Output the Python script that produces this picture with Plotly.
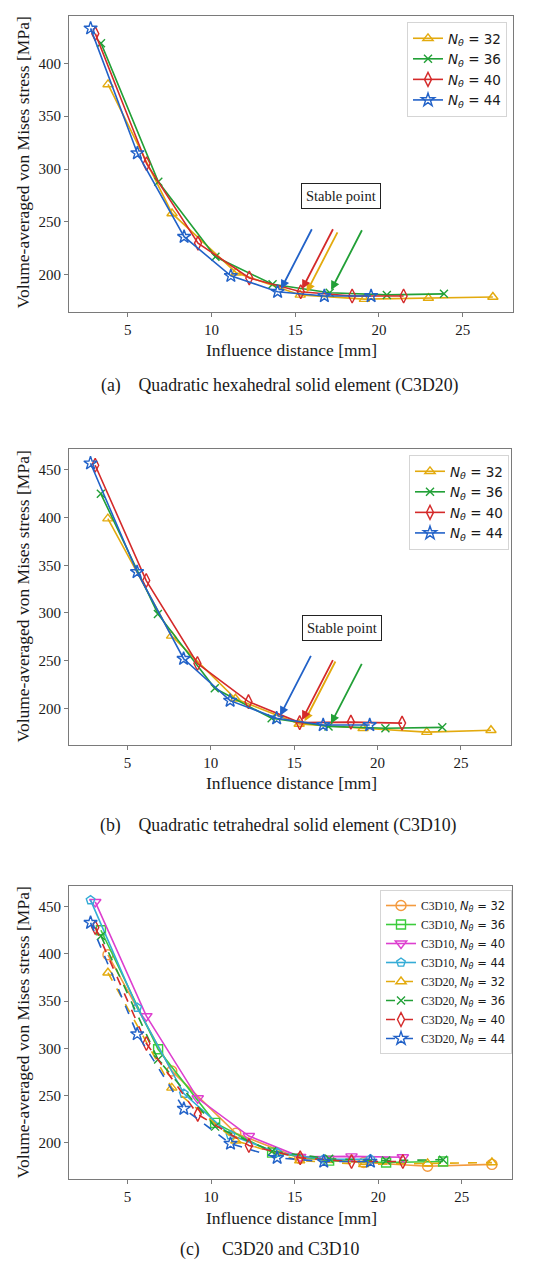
import plotly.graph_objects as go

# ---------------- data ----------------
# influence distance [mm] for each N_theta
x32 = [3.83, 7.65, 11.48, 15.30, 19.13, 22.95, 26.80]
x36 = [3.41, 6.83, 10.24, 13.65, 17.06, 20.47, 23.88]
x40 = [3.07, 6.13, 9.20, 12.26, 15.33, 18.40, 21.47]
x44 = [2.79, 5.58, 8.37, 11.16, 13.95, 16.74, 19.53]

# volume-averaged von Mises stress [MPa], C3D20
c3d20_32 = [380, 258, 202, 181, 177, 178, 179]
c3d20_36 = [419, 288, 217, 191, 183, 181, 182]
c3d20_40 = [428, 305, 230, 197, 184, 180, 180]
c3d20_44 = [433, 315, 236, 199, 184, 180, 180]

# volume-averaged von Mises stress [MPa], C3D10
c3d10_32 = [399, 276, 210, 183.5, 179, 175, 177]
c3d10_36 = [425, 299, 221, 189.5, 181, 179, 180]
c3d10_40 = [455, 334, 247, 207, 185, 185.5, 184.5]
c3d10_44 = [457, 343, 252, 208, 189.5, 182.5, 182.5]

n_labels = ["32", "36", "40", "44"]
x_ticks = [5, 10, 15, 20, 25]
y_ticks_a = [200, 250, 300, 350, 400]
y_ticks_bc = [200, 250, 300, 350, 400, 450]
stable_index = [3, 4, 4, 4]  # index of the stable point in each series

# ---------------- style ----------------
W, H = 544, 1280
SERIF = "Liberation Serif"
SANS = "DejaVu Sans"
col20 = ["#e3aa0e", "#22a037", "#d42a2a", "#2262c8"]
col10 = ["#f39a3e", "#3ccc3c", "#dd3fcf", "#35acd6"]
sym20 = ["triangle-up-open", "x-thin-open", "diamond-tall-open", "star-open"]
sym10 = ["circle-open", "square-open", "triangle-down-open", "pentagon-open"]
size20 = [9, 8, 10, 10]
size10 = [10, 9, 10, 9]
arrow_xshift = [[5, 0, 0, 2], [4, 1, 1, 2]]  # per panel, per series (px)

xs = [x32, x36, x40, x44]
ys20 = [c3d20_32, c3d20_36, c3d20_40, c3d20_44]
ys10 = [c3d10_32, c3d10_36, c3d10_40, c3d10_44]


def nlabel(n):
    return "<i>N</i><sub><i>θ</i></sub> = " + n


fig = go.Figure()


def add_series(xa, ya, xv, yv, color, sym, size, name, legend, dash="solid"):
    fig.add_trace(go.Scatter(
        x=xv, y=yv, mode="lines+markers", name=name, legend=legend,
        xaxis=xa, yaxis=ya,
        line=dict(color=color, width=1.6, dash=dash),
        marker=dict(symbol=sym, size=size, color=color,
                    line=dict(color=color, width=1.4)),
    ))


# panel (a): C3D20
for i in range(4):
    add_series("x", "y", xs[i], ys20[i], col20[i], sym20[i], size20[i],
               nlabel(n_labels[i]), "legend")
# panel (b): C3D10 (same colours/markers as (a))
for i in range(4):
    add_series("x2", "y2", xs[i], ys10[i], col20[i], sym20[i], size20[i],
               nlabel(n_labels[i]), "legend2")
# panel (c): both
for i in range(4):
    add_series("x3", "y3", xs[i], ys10[i], col10[i], sym10[i], size10[i],
               "C3D10, <span style='font-family:DejaVu Sans'>" + nlabel(n_labels[i]) + "</span>",
               "legend3")
for i in range(4):
    add_series("x3", "y3", xs[i], ys20[i], col20[i], sym20[i], size20[i],
               "C3D20, <span style='font-family:DejaVu Sans'>" + nlabel(n_labels[i]) + "</span>",
               "legend3", dash="dash")

# ---------------- axes ----------------
def px_x(p):
    return p / W


def px_y(p):
    return 1 - p / H


axis_common = dict(showline=True, linecolor="#7a7a7a", linewidth=1, mirror=True,
                   ticks="outside", ticklen=4, tickcolor="#7a7a7a", tickwidth=1,
                   showgrid=False, zeroline=False,
                   tickfont=dict(family=SERIF, size=15, color="#1a1a1a"))

panels = [
    # xaxis key, yaxis key, x domain px, y domain px (top, bottom), y range, y ticks
    ("xaxis", "yaxis", (69, 513), (16, 311.5), (165.3, 444.7), y_ticks_a, "y"),
    ("xaxis2", "yaxis2", (69, 511), (449.3, 745), (161.5, 471.7), y_ticks_bc, "y2"),
    ("xaxis3", "yaxis3", (69, 512), (886, 1179.3), (161.2, 471.9), y_ticks_bc, "y3"),
]
layout_axes = {}
for xk, yk, (xl, xr), (yt, yb), yr, yt_vals, yname in panels:
    layout_axes[xk] = dict(axis_common, domain=[px_x(xl), px_x(xr)], anchor=yname,
                           range=[1.5, 28.0], tickvals=x_ticks)
    layout_axes[yk] = dict(axis_common, domain=[px_y(yb), px_y(yt)],
                           anchor=yname.replace("y", "x"),
                           range=list(yr), tickvals=yt_vals)

legend_common = dict(bgcolor="rgba(255,255,255,0.9)", bordercolor="#d5d5d5", borderwidth=1,
                     xanchor="left", yanchor="top", itemwidth=30,
                     tracegroupgap=0)

fig.update_layout(
    width=W, height=H, margin=dict(l=0, r=0, t=0, b=0),
    paper_bgcolor="white", plot_bgcolor="white",
    showlegend=True,
    legend=dict(legend_common, x=px_x(407), y=px_y(22),
                font=dict(family=SANS, size=13.5, color="#1a1a1a")),
    legend2=dict(legend_common, x=px_x(409), y=px_y(455),
                 font=dict(family=SANS, size=13.5, color="#1a1a1a")),
    legend3=dict(legend_common, x=px_x(380), y=px_y(890),
                 font=dict(family=SERIF, size=11.5, color="#1a1a1a")),
    **layout_axes,
)

# ---------------- annotations ----------------
ann = []
# axis titles and captions
title_rows = [
    # (x-title y px, y-title y-center px, caption x-center px, caption y px, caption text)
    (350, 163, 280, 385, "(a)\u00a0\u00a0\u00a0\u00a0Quadratic hexahedral solid element (C3D20)"),
    (783, 597, 278, 825, "(b)\u00a0\u00a0\u00a0\u00a0Quadratic tetrahedral solid element (C3D10)"),
    (1218, 1033, 269, 1249, "(c)\u00a0\u00a0\u00a0\u00a0\u00a0C3D20 and C3D10"),
]
for xt_y, yty, cap_x, cap_y, cap in title_rows:
    ann.append(dict(text="Influence distance [mm]", x=px_x(291), y=px_y(xt_y),
                    xref="paper", yref="paper", showarrow=False,
                    font=dict(family=SERIF, size=17.5, color="#1a1a1a"),
                    xanchor="center", yanchor="middle"))
    ann.append(dict(text="Volume-averaged von Mises stress [MPa]", x=px_x(22.5), y=px_y(yty),
                    xref="paper", yref="paper", showarrow=False, textangle=-90,
                    font=dict(family=SERIF, size=17.5, color="#1a1a1a"),
                    xanchor="center", yanchor="middle"))
    ann.append(dict(text=cap, x=px_x(cap_x), y=px_y(cap_y),
                    xref="paper", yref="paper", showarrow=False,
                    font=dict(family=SERIF, size=17.8, color="#1a1a1a"),
                    xanchor="center", yanchor="middle"))

# stable-point boxes
for xr_, yr_, bx, by in [("x", "y", 17.72, 274.4), ("x2", "y2", 17.86, 283.9)]:
    ann.append(dict(text="Stable point", x=bx, y=by, xref=xr_, yref=yr_,
                    showarrow=False, bgcolor="white", bordercolor="#222222",
                    borderwidth=1, borderpad=4,
                    font=dict(family=SERIF, size=14.5, color="#1a1a1a")))

# arrows to stable points
for p, (xr_, yr_, ys) in enumerate([("x", "y", ys20), ("x2", "y2", ys10)]):
    for i in range(4):
        k = stable_index[i]
        ann.append(dict(text="", x=xs[i][k], y=ys[i][k],
                        xref=xr_, yref=yr_, showarrow=True,
                        ax=33, ay=-64, axref="pixel", ayref="pixel",
                        xshift=arrow_xshift[p][i],
                        arrowhead=2, arrowsize=1, arrowwidth=1.8,
                        arrowcolor=col20[i], standoff=3))

fig.update_layout(annotations=ann)
fig.write_html("out.html")
